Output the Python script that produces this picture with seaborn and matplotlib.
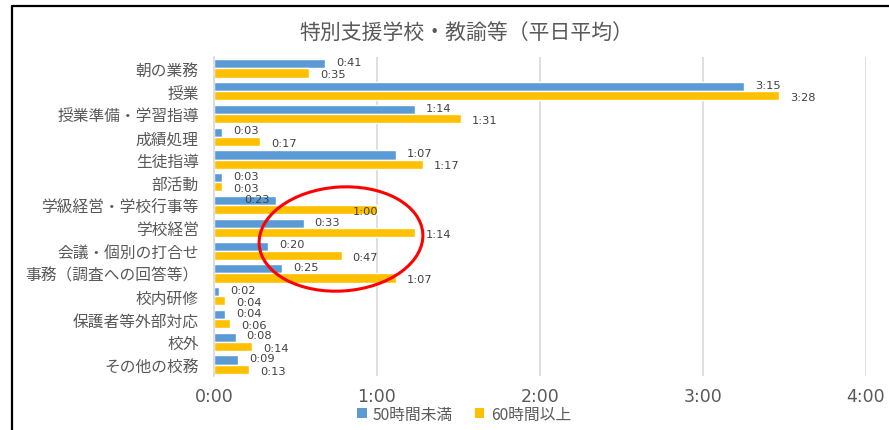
import matplotlib

matplotlib.use("Agg")
import matplotlib.pyplot as plt
import matplotlib.transforms as mtransforms
import pandas as pd
import seaborn as sns
from matplotlib.lines import Line2D
from matplotlib.patches import Ellipse

# 業務の種類（上から順に）
CATEGORIES = [
    "朝の業務",
    "授業",
    "授業準備・学習指導",
    "成績処理",
    "生徒指導",
    "部活動",
    "学級経営・学校行事等",
    "学校経営",
    "会議・個別の打合せ",
    "事務（調査への回答等）",
    "校内研修",
    "保護者等外部対応",
    "校外",
    "その他の校務",
]
SERIES = ["50時間未満", "60時間以上"]
# 1日あたりの時間（分）
UNDER_50 = [41, 195, 74, 3, 67, 3, 23, 33, 20, 25, 2, 4, 8, 9]
OVER_60 = [35, 208, 91, 17, 77, 3, 60, 74, 47, 67, 4, 6, 14, 13]
X_TICKS = [0, 60, 120, 180, 240]
X_TICK_LABELS = ["0:00", "1:00", "2:00", "3:00", "4:00"]
TITLE = "特別支援学校・教諭等（平日平均）"

COLORS = ["#5B9BD5", "#FFC000"]
TEXT_COLOR = "#595959"


def fmt_minutes(m: int) -> str:
    return f"{m // 60}:{m % 60:02d}"


def main() -> None:
    sns.set_theme(style="white")
    plt.rcParams["font.family"] = ["Noto Sans CJK JP", "DejaVu Sans"]

    df = pd.DataFrame(
        {
            "category": CATEGORIES * 2,
            "series": [SERIES[0]] * len(CATEGORIES) + [SERIES[1]] * len(CATEGORIES),
            "minutes": UNDER_50 + OVER_60,
        }
    )

    fig = plt.figure(figsize=(8.89, 4.31), dpi=100)
    ax = fig.add_axes([0.2407, 0.1253, 0.7333, 0.7401])

    sns.barplot(
        data=df,
        x="minutes",
        y="category",
        hue="series",
        order=CATEGORIES,
        hue_order=SERIES,
        palette=COLORS,
        orient="h",
        width=0.8,
        saturation=1,
        legend=True,
        ax=ax,
    )

    ax.set_xlim(0, 240)
    ax.set_xticks(X_TICKS)
    ax.set_xticklabels(X_TICK_LABELS, fontsize=12.5, color=TEXT_COLOR, family="DejaVu Sans")
    ax.tick_params(axis="y", labelsize=11.3, labelcolor=TEXT_COLOR, length=0, pad=11)
    ax.tick_params(axis="x", length=0, pad=8)
    ax.set_xlabel("")
    ax.set_ylabel("")
    ax.xaxis.grid(True, color="#D9D9D9", linewidth=1.2)
    ax.set_axisbelow(True)
    for side in ["top", "right", "bottom"]:
        ax.spines[side].set_visible(False)
    ax.spines["left"].set_color("#D9D9D9")
    ax.spines["left"].set_linewidth(1.2)

    # データラベル（棒の端の右側）。2つだけ元の図で棒の内側寄りに置かれている
    inside_shift = {("学級経営・学校行事等", 0): -32, ("学級経営・学校行事等", 1): -24}
    for s_idx, container in enumerate(ax.containers):
        values = UNDER_50 if s_idx == 0 else OVER_60
        for c_idx, bar in enumerate(container):
            y = bar.get_y() + bar.get_height() / 2
            dx_px = inside_shift.get((CATEGORIES[c_idx], s_idx), 11)
            ax.annotate(
                fmt_minutes(values[c_idx]),
                xy=(bar.get_width(), y),
                xytext=(dx_px * 0.72, 1.3 if s_idx == 0 else -1.0),
                textcoords="offset points",
                ha="left",
                va="center",
                fontsize=8.2,
                color="#404040",
                family="DejaVu Sans",
            )

    ax.legend_.remove()
    handles = [
        plt.Rectangle((0, 0), 1, 1, facecolor=COLORS[0], edgecolor="none"),
        plt.Rectangle((0, 0), 1, 1, facecolor=COLORS[1], edgecolor="none"),
    ]
    fig.legend(
        handles,
        SERIES,
        loc="center",
        bbox_to_anchor=(0.522, 0.036),
        ncol=2,
        frameon=False,
        fontsize=11.3,
        labelcolor=TEXT_COLOR,
        handlelength=0.6,
        handleheight=0.6,
        handletextpad=0.4,
        columnspacing=1.4,
        borderpad=0.1,
    )

    fig.text(0.525, 0.923, TITLE, ha="center", va="center", fontsize=15, color=TEXT_COLOR)

    # 赤丸の強調
    ellipse = Ellipse(
        (341, 431 - 240),
        width=164,
        height=104,
        angle=4,
        fill=False,
        edgecolor="#FF0000",
        linewidth=2.2,
        transform=mtransforms.IdentityTransform(),
    )
    fig.add_artist(ellipse)

    # 枠線（左と上）
    fig.add_artist(Line2D([12 / 889, 12 / 889], [0, 1 - 7 / 431], color="black", linewidth=1.6))
    fig.add_artist(Line2D([12 / 889, 1], [1 - 7 / 431, 1 - 7 / 431], color="black", linewidth=1.6))

    fig.savefig("out.png", dpi=100)
    plt.close(fig)


if __name__ == "__main__":
    main()
